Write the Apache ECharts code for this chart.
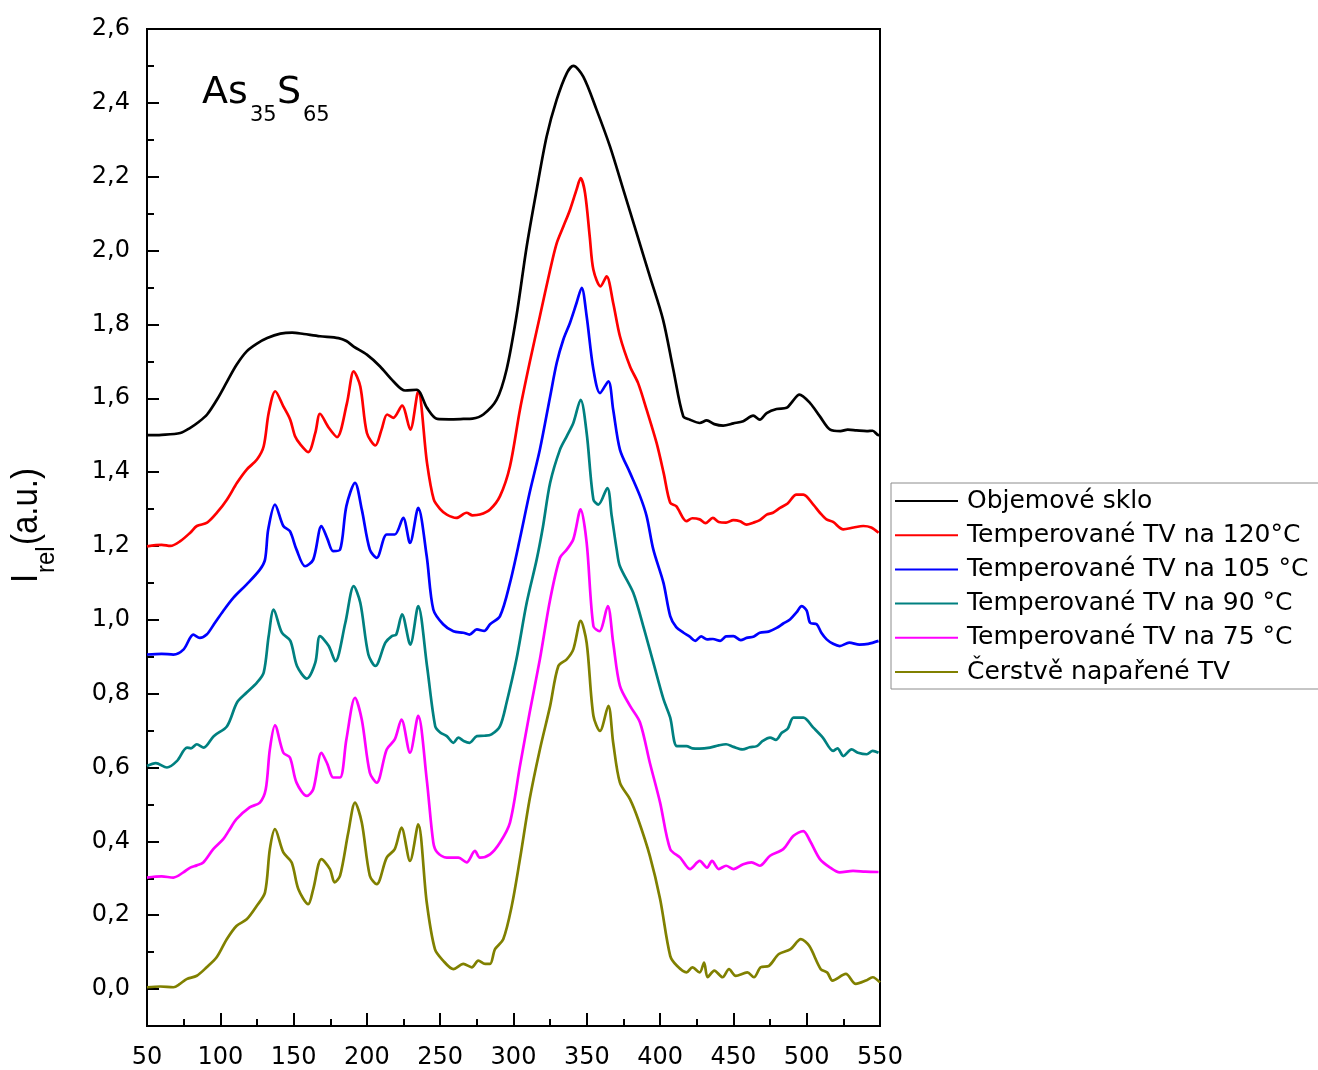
<!DOCTYPE html>
<html>
<head>
<meta charset="utf-8">
<title>Ramanova spektra As35S65</title>
<script src="https://cdn.jsdelivr.net/npm/echarts@6/dist/echarts.min.js"></script>
<style>
  html, body { margin: 0; padding: 0; background: #fff; }
  #chart { width: 1318px; height: 1070px; }
</style>
</head>
<body>
<div id="chart"></div>
<script>
// Raman spectra of As35S65: bulk glass and thin films (fresh and annealed)
const seriesNames = [
  'Objemové sklo',
  'Temperované TV na 120°C',
  'Temperované TV na 105 °C',
  'Temperované TV na 90 °C',
  'Temperované TV na 75 °C',
  'Čerstvě napařené TV'
];
const seriesColors = ['#000000', '#ff0000', '#0000ff', '#008080', '#ff00ff', '#808000'];

// [Raman shift (cm-1), relative intensity]
const objemoveSklo = [[50,1.500],[60,1.501],[72.7,1.506],[79.5,1.52],[85,1.535],[91,1.556],[98,1.598],[104.6,1.645],[111,1.69],[118,1.727],[125,1.748],[132,1.763],[141,1.775],[149,1.778],[157,1.774],[168,1.768],[180.6,1.763],[186,1.755],[191,1.74],[200,1.718],[209,1.686],[218,1.646],[226,1.621],[234,1.623],[241,1.574],[248,1.544],[256,1.543],[265.8,1.544],[272,1.545],[279.4,1.556],[288.5,1.596],[295.3,1.678],[302,1.822],[309,2.011],[315.8,2.165],[322.6,2.309],[329.4,2.408],[336.3,2.480],[340.8,2.50],[347.6,2.471],[356.7,2.381],[365.8,2.282],[374.9,2.165],[384,2.047],[393,1.93],[402,1.813],[409,1.678],[415.8,1.551],[420.4,1.542],[427,1.533],[431.8,1.54],[437,1.53],[443,1.526],[450,1.532],[456.7,1.538],[463.5,1.553],[468,1.542],[472.7,1.56],[479.5,1.571],[486.3,1.574],[490,1.59],[495,1.61],[502.3,1.587],[509,1.551],[516,1.515],[523,1.511],[528,1.515],[534,1.513],[541,1.511],[545,1.512],[549,1.50],[550,1.50]];

const temperovane120 = [[50,1.199],[60,1.203],[66,1.200],[72.7,1.213],[79.5,1.236],[84,1.254],[91,1.263],[97.7,1.29],[104.6,1.326],[111.4,1.371],[118,1.407],[125,1.434],[129.6,1.47],[133,1.56],[137.5,1.619],[143,1.578],[147.7,1.542],[151,1.497],[154.6,1.475],[160,1.454],[164.8,1.506],[168,1.558],[174,1.52],[179.6,1.495],[186.4,1.587],[191,1.673],[195.5,1.632],[200,1.506],[205.8,1.472],[210,1.515],[213.8,1.556],[218,1.547],[224,1.58],[229.6,1.515],[235,1.619],[241,1.425],[245.6,1.326],[250,1.30],[254.5,1.285],[261,1.276],[268,1.29],[272,1.283],[277,1.285],[284,1.299],[290.8,1.335],[297.6,1.416],[304.4,1.569],[311,1.696],[318,1.822],[325,1.948],[329.5,2.02],[334,2.065],[338.5,2.11],[343,2.165],[345.8,2.196],[348.8,2.156],[352,2.038],[354.5,1.948],[359.4,1.903],[363.5,1.93],[368,1.858],[372.6,1.768],[379.5,1.686],[385,1.641],[390.8,1.569],[397.6,1.479],[402.4,1.398],[406.9,1.317],[411,1.308],[418,1.267],[422,1.275],[427,1.272],[431,1.262],[436,1.276],[440,1.265],[445,1.263],[450,1.27],[454.5,1.267],[459,1.258],[463.5,1.263],[468,1.27],[472.7,1.285],[477,1.29],[481.8,1.303],[487,1.315],[493,1.339],[497.7,1.339],[504.5,1.312],[509,1.29],[513.5,1.272],[518,1.265],[525,1.245],[532,1.25],[538.6,1.254],[544,1.25],[549,1.236]];

const temperovane105 = [[50,0.906],[60,0.908],[68,0.906],[75,0.92],[81.6,0.96],[86,0.951],[90.7,0.96],[96,0.99],[102,1.024],[109,1.06],[118,1.096],[127,1.136],[130.5,1.163],[132.7,1.245],[137.3,1.312],[143,1.254],[147.5,1.24],[152,1.19],[157.8,1.145],[163.4,1.163],[169,1.254],[173,1.22],[177,1.186],[181.7,1.19],[186,1.308],[191.9,1.371],[196.5,1.299],[202,1.19],[206.7,1.168],[213.5,1.231],[219,1.231],[224.8,1.276],[229.4,1.208],[235,1.303],[240.8,1.172],[245.3,1.028],[252,0.988],[259,0.969],[265.8,0.965],[270,0.96],[275,0.974],[280,0.97],[284,0.988],[290.8,1.01],[297.6,1.10],[304.4,1.22],[311,1.344],[318,1.461],[325,1.605],[329.5,1.696],[334,1.759],[338.5,1.804],[343,1.858],[346.5,1.899],[349.9,1.822],[354.5,1.678],[359,1.614],[364.7,1.646],[368,1.569],[372.6,1.461],[379.5,1.398],[386.3,1.335],[390.8,1.281],[395.4,1.19],[402.3,1.10],[406.9,1.01],[411,0.98],[416,0.965],[420,0.955],[424,0.943],[428,0.955],[432,0.947],[436,0.948],[441,0.943],[445,0.955],[450,0.956],[455,0.945],[459,0.951],[464,0.955],[468,0.965],[474,0.968],[479.5,0.978],[484,0.99],[488.6,1.001],[493,1.02],[496.6,1.037],[500,1.025],[502.3,0.992],[506.8,0.988],[510,0.965],[513.6,0.947],[518,0.935],[522.5,0.929],[529,0.938],[536,0.933],[542,0.935],[549,0.943]];

const temperovane90 = [[50,0.604],[56,0.612],[63.6,0.60],[70.5,0.618],[77.3,0.654],[80,0.652],[84,0.663],[88.7,0.654],[95.5,0.685],[104.6,0.712],[111.4,0.776],[118,0.803],[125,0.83],[129.6,0.857],[133,0.956],[136.4,1.028],[142,0.965],[147.8,0.943],[152.3,0.875],[159,0.841],[164.8,0.884],[168,0.956],[174,0.929],[178.5,0.888],[185.3,0.992],[191,1.091],[195.5,1.046],[201,0.906],[205.8,0.875],[212.6,0.938],[217,0.956],[220,0.96],[224,1.015],[229.6,0.933],[235,1.037],[241,0.875],[246.6,0.712],[250,0.695],[254.5,0.685],[259,0.667],[262.4,0.681],[266,0.672],[270,0.667],[275,0.685],[280,0.686],[285,0.69],[290.8,0.712],[295.3,0.776],[302,0.893],[309,1.046],[315.8,1.163],[320,1.25],[325,1.371],[331.7,1.461],[336.3,1.497],[340.8,1.533],[345.8,1.596],[349.9,1.506],[354.5,1.326],[357.9,1.312],[364,1.357],[367,1.281],[370.4,1.19],[372.6,1.145],[381.7,1.073],[388.5,0.983],[395.4,0.884],[402.3,0.785],[406.9,0.735],[411.5,0.658],[418,0.658],[422,0.652],[427,0.651],[434,0.654],[440,0.66],[445,0.663],[450,0.656],[456.4,0.649],[461,0.655],[466,0.658],[470,0.672],[475,0.681],[479,0.675],[483,0.694],[487,0.705],[491,0.735],[497.7,0.735],[504.5,0.708],[511,0.681],[518,0.645],[521,0.652],[525,0.631],[530.6,0.649],[535,0.64],[541,0.636],[545,0.645],[549,0.64]];

const temperovane75 = [[50,0.302],[60,0.305],[68,0.302],[74.8,0.316],[79.5,0.329],[84,0.335],[88.4,0.343],[95.2,0.379],[102,0.406],[106,0.43],[111,0.46],[120,0.492],[127,0.505],[131,0.541],[133.8,0.649],[137.3,0.714],[143,0.64],[147.5,0.627],[152,0.559],[159,0.523],[163.4,0.541],[169,0.64],[173,0.61],[177,0.573],[181.7,0.573],[186,0.676],[191.9,0.789],[196.5,0.73],[202,0.586],[206.7,0.559],[213.5,0.649],[219,0.676],[223.6,0.73],[229.4,0.64],[235,0.74],[240.8,0.568],[245.3,0.397],[248,0.37],[254.5,0.356],[262.4,0.356],[268,0.343],[273.7,0.374],[277,0.356],[284,0.365],[290.8,0.397],[297.6,0.451],[304.4,0.604],[311,0.748],[318,0.893],[325,1.055],[331.7,1.168],[336.3,1.19],[340.8,1.218],[345.8,1.299],[349.9,1.209],[354.5,0.983],[358.6,0.969],[364.3,1.037],[368,0.938],[372.6,0.821],[379.5,0.767],[386.3,0.722],[393,0.613],[400,0.505],[406.9,0.379],[413.7,0.356],[420.4,0.325],[427,0.347],[432,0.329],[435.4,0.347],[440,0.325],[445,0.334],[450,0.325],[456.7,0.338],[462.4,0.343],[468,0.334],[475,0.361],[484,0.379],[491,0.415],[497.7,0.428],[502.3,0.401],[509,0.352],[516,0.329],[522.5,0.316],[531.6,0.32],[540,0.318],[549,0.317]];

const cerstveNaparene = [[50,0.005],[59,0.007],[68,0.005],[72.5,0.014],[77,0.027],[84,0.036],[90.7,0.059],[97.5,0.086],[104.4,0.135],[111,0.171],[118,0.189],[124.8,0.225],[130.5,0.262],[133.8,0.379],[137.3,0.433],[143,0.37],[148.7,0.343],[153.2,0.271],[160,0.23],[163.4,0.271],[169,0.352],[174.8,0.325],[178,0.289],[181.7,0.307],[187.3,0.424],[191.9,0.505],[196.5,0.451],[202,0.307],[206.7,0.284],[213.5,0.356],[219,0.379],[223.6,0.437],[229.4,0.347],[235,0.446],[240.8,0.235],[246.4,0.108],[252,0.077],[259,0.054],[265.8,0.068],[271.5,0.059],[276,0.077],[280.6,0.068],[284,0.068],[287.4,0.108],[293,0.135],[298.8,0.225],[304.4,0.352],[311,0.514],[318,0.649],[325,0.767],[330.6,0.875],[336.3,0.893],[340.8,0.92],[345.8,0.997],[349.9,0.938],[354.5,0.74],[359,0.699],[364.7,0.767],[368,0.667],[372.6,0.559],[379.5,0.514],[385,0.46],[393,0.361],[400,0.244],[406.9,0.09],[411.5,0.063],[418,0.045],[422,0.059],[427,0.045],[430,0.072],[432.4,0.032],[437,0.05],[442.6,0.032],[447,0.054],[451.6,0.036],[459.5,0.045],[464,0.032],[468.6,0.059],[474.3,0.063],[481,0.095],[489,0.108],[496,0.135],[501.7,0.117],[509.6,0.054],[514,0.045],[517.6,0.023],[526.7,0.041],[533.5,0.014],[540.4,0.023],[545,0.032],[550,0.018]];

const seriesData = [objemoveSklo, temperovane120, temperovane105, temperovane90, temperovane75, cerstveNaparene];

// axis ticks
const yMajorTicks = [0, 0.2, 0.4, 0.6, 0.8, 1.0, 1.2, 1.4, 1.6, 1.8, 2.0, 2.2, 2.4, 2.6];
const yMinorTicks = [-0.1, 0.1, 0.3, 0.5, 0.7, 0.9, 1.1, 1.3, 1.5, 1.7, 1.9, 2.1, 2.3, 2.5];

const FONT = '"DejaVu Sans", "Liberation Sans", sans-serif';
const FONT_NAME = '"Liberation Sans", Arial, sans-serif';

const chart = echarts.init(document.getElementById('chart'), null, { renderer: 'canvas' });

const option = {
  backgroundColor: '#ffffff',
  animation: false,
  grid: {
    left: 147, top: 29, width: 733, height: 998,
    show: true, borderColor: '#000', borderWidth: 2, backgroundColor: 'transparent'
  },
  xAxis: {
    type: 'value', min: 50, max: 550, interval: 50,
    axisLine: { show: true, onZero: false, lineStyle: { color: '#000', width: 2 } },
    axisTick: { show: true, inside: true, length: 13, lineStyle: { color: '#000', width: 2 } },
    minorTick: { show: true, splitNumber: 2, length: 7, lineStyle: { color: '#000', width: 2 } },
    axisLabel: { color: '#000', fontSize: 24, fontFamily: FONT, margin: 20 },
    splitLine: { show: false }
  },
  yAxis: [
    {
      type: 'value', min: -0.1, max: 2.6,
      axisLine: { show: true, onZero: false, lineStyle: { color: '#000', width: 2 } },
      axisTick: { show: true, inside: true, length: 12, customValues: yMajorTicks, lineStyle: { color: '#000', width: 2 } },
      axisLabel: {
        customValues: yMajorTicks, color: '#000', fontSize: 24, fontFamily: FONT, margin: 17,
        formatter: v => v.toFixed(1).replace('.', ',')
      },
      splitLine: { show: false }
    },
    {
      type: 'value', min: -0.1, max: 2.6, position: 'left', offset: 0,
      axisLine: { show: false },
      axisTick: { show: true, inside: true, length: 7, customValues: yMinorTicks, lineStyle: { color: '#000', width: 2 } },
      axisLabel: { show: false },
      splitLine: { show: false }
    }
  ],
  legend: {
    orient: 'vertical', left: 891, top: 483,
    padding: [1, 12, 0, 4], itemGap: 0.2,
    backgroundColor: '#fff', borderColor: '#8c8c8c', borderWidth: 1,
    icon: 'rect', itemWidth: 63, itemHeight: 2,
    selectedMode: false,
    textStyle: { color: '#000', fontSize: 25, fontFamily: FONT, lineHeight: 34, padding: [0, 0, 0, 4] },
    data: seriesNames
  },
  graphic: [
    // sample label As35S65
    { type: 'text', x: 202, y: 93, style: { text: 'As', font: '38px ' + FONT, fill: '#000', verticalAlign: 'middle' } },
    { type: 'text', x: 250, y: 116, style: { text: '35', font: '21px ' + FONT, fill: '#000', verticalAlign: 'middle' } },
    { type: 'text', x: 277, y: 93, style: { text: 'S', font: '38px ' + FONT, fill: '#000', verticalAlign: 'middle' } },
    { type: 'text', x: 303, y: 116, style: { text: '65', font: '21px ' + FONT, fill: '#000', verticalAlign: 'middle' } },
    // y axis title I_rel(a.u.)
    {
      type: 'group', x: 27, y: 583, rotation: Math.PI / 2, scaleY: 1.1,
      children: [
        { type: 'text', x: 0, y: 0, style: { text: 'I', font: '33px ' + FONT_NAME, fill: '#000', verticalAlign: 'middle' } },
        { type: 'text', x: 10, y: 17.5, style: { text: 'rel', font: '24px ' + FONT_NAME, fill: '#000', verticalAlign: 'middle' } },
        { type: 'text', x: 38, y: 0, style: { text: '(a.u.)', font: '33px ' + FONT_NAME, fill: '#000', verticalAlign: 'middle' } }
      ]
    }
  ],
  series: seriesNames.map((name, i) => ({
    name: name,
    type: 'line',
    xAxisIndex: 0,
    yAxisIndex: 0,
    data: seriesData[i],
    showSymbol: false,
    symbol: 'none',
    smooth: 0.3,
    color: seriesColors[i],
    lineStyle: { color: seriesColors[i], width: 2.7 },
    z: 10 - i
  }))
};

chart.setOption(option);
</script>
</body>
</html>
